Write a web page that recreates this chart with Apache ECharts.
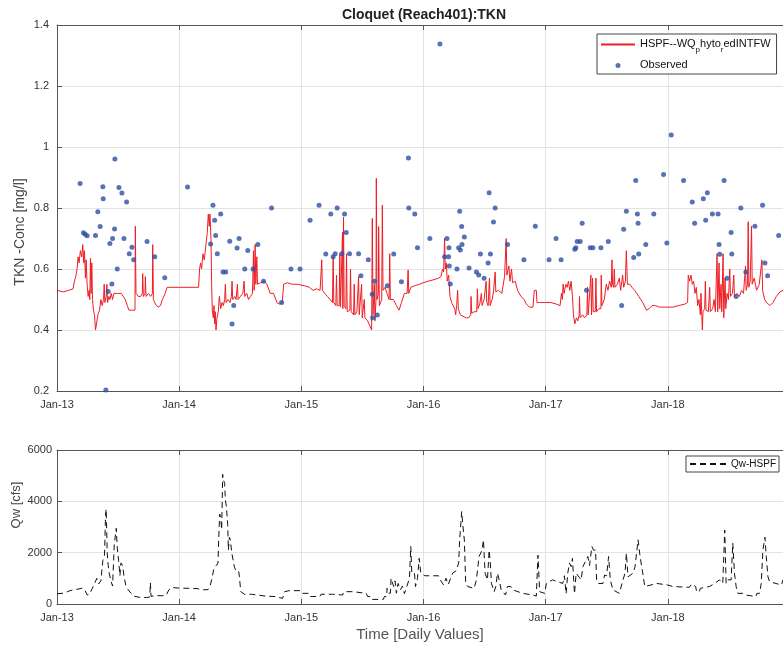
<!DOCTYPE html>
<html><head><meta charset="utf-8">
<script src="https://cdn.jsdelivr.net/npm/echarts@6/dist/echarts.min.js"></script>
<style>html,body{margin:0;padding:0;background:#fff}#c{width:783px;height:648px}</style>
</head><body><div id="c"></div>
<script>
// ---------- data ----------
const yearLabels = ['Jan-13','Jan-14','Jan-15','Jan-16','Jan-17','Jan-18'];
const xStart = '2013-01-01';
const xEnd = '2018-12-10';
const tknTicks = [0.2, 1.4, 0.2];      // min, max, step
const qwTicks = [0, 6000, 2000];       // min, max, step

const tknSim = [
['2013-01-01',0.53],['2013-01-20',0.525],['2013-02-05',0.53],['2013-02-18',0.535],['2013-02-22',0.56],['2013-02-26',0.575],['2013-03-02',0.60],['2013-03-05',0.64],['2013-03-08',0.62],['2013-03-12',0.66],['2013-03-16',0.64],['2013-03-19',0.68],['2013-03-22',0.62],['2013-03-24',0.66],['2013-03-27',0.57],['2013-03-29',0.63],['2013-04-01',0.55],['2013-04-04',0.51],['2013-04-07',0.53],['2013-04-09',0.50],['2013-04-11',0.635],['2013-04-13',0.52],['2013-04-15',0.62],['2013-04-17',0.50],['2013-04-20',0.465],['2013-04-23',0.45],['2013-04-26',0.40],['2013-04-29',0.42],['2013-05-03',0.45],['2013-05-08',0.465],['2013-05-12',0.50],['2013-05-16',0.48],['2013-05-20',0.50],['2013-05-22',0.55],['2013-05-24',0.49],['2013-05-28',0.51],['2013-05-30',0.55],['2013-06-01',0.49],['2013-06-05',0.51],['2013-06-08',0.50],['2013-06-12',0.52],['2013-06-16',0.50],['2013-06-20',0.52],['2013-07-01',0.52],['2013-07-12',0.52],['2013-07-18',0.51],['2013-07-24',0.50],['2013-07-30',0.48],['2013-08-04',0.465],['2013-08-15',0.465],['2013-08-22',0.465],['2013-08-23',0.74],['2013-08-25',0.52],['2013-09-01',0.51],['2013-09-08',0.51],['2013-09-13',0.52],['2013-09-14',0.585],['2013-09-16',0.51],['2013-09-21',0.52],['2013-09-22',0.575],['2013-09-24',0.51],['2013-10-01',0.52],['2013-10-08',0.51],['2013-10-13',0.52],['2013-10-14',0.68],['2013-10-16',0.50],['2013-10-22',0.485],['2013-10-30',0.475],['2013-11-06',0.48],['2013-11-12',0.50],['2013-11-20',0.52],['2013-11-26',0.54],['2013-12-10',0.54],['2013-12-31',0.54],
['2014-02-28',0.54],['2014-03-03',0.60],['2014-03-06',0.62],['2014-03-09',0.60],['2014-03-13',0.65],['2014-03-17',0.63],['2014-03-22',0.68],['2014-03-26',0.72],['2014-03-29',0.78],['2014-04-01',0.74],['2014-04-03',0.78],['2014-04-06',0.70],['2014-04-08',0.55],['2014-04-10',0.465],['2014-04-13',0.44],['2014-04-15',0.48],['2014-04-17',0.42],['2014-04-19',0.46],['2014-04-21',0.40],['2014-04-24',0.44],['2014-04-28',0.46],['2014-05-01',0.51],['2014-05-05',0.47],['2014-05-09',0.49],['2014-05-13',0.48],['2014-05-17',0.50],['2014-05-19',0.55],['2014-05-21',0.49],['2014-05-27',0.50],['2014-06-02',0.49],['2014-06-06',0.51],['2014-06-08',0.56],['2014-06-10',0.50],['2014-06-16',0.51],['2014-06-20',0.50],['2014-06-24',0.55],['2014-06-26',0.50],['2014-07-03',0.51],['2014-07-10',0.52],['2014-07-14',0.56],['2014-07-16',0.51],['2014-07-22',0.52],['2014-07-27',0.50],['2014-08-02',0.51],['2014-08-08',0.52],['2014-08-11',0.66],['2014-08-13',0.53],['2014-08-16',0.68],['2014-08-18',0.55],['2014-08-21',0.64],['2014-08-23',0.55],['2014-09-01',0.555],['2014-09-12',0.56],['2014-09-20',0.55],['2014-09-30',0.52],['2014-10-10',0.52],['2014-10-20',0.49],['2014-10-28',0.485],['2014-11-05',0.49],['2014-11-09',0.55],['2014-11-20',0.555],['2014-12-05',0.55],['2014-12-20',0.55],
['2015-01-10',0.545],['2015-01-25',0.54],['2015-02-05',0.53],['2015-02-15',0.535],['2015-02-26',0.53],['2015-03-02',0.53],['2015-03-03',0.63],['2015-03-05',0.53],['2015-03-12',0.52],['2015-03-20',0.51],['2015-03-28',0.50],['2015-04-04',0.49],['2015-04-06',0.64],['2015-04-08',0.49],['2015-04-14',0.48],['2015-04-16',0.58],['2015-04-18',0.48],['2015-04-24',0.48],['2015-04-26',0.65],['2015-04-28',0.475],['2015-05-03',0.47],['2015-05-04',0.72],['2015-05-05',0.47],['2015-05-07',0.77],['2015-05-09',0.48],['2015-05-14',0.47],['2015-05-16',0.65],['2015-05-18',0.46],['2015-05-26',0.465],['2015-05-28',0.60],['2015-05-30',0.46],['2015-06-06',0.45],['2015-06-08',0.55],['2015-06-10',0.45],['2015-06-16',0.46],['2015-06-21',0.575],['2015-06-23',0.45],['2015-06-28',0.445],['2015-06-30',0.55],['2015-07-02',0.44],['2015-07-08',0.50],['2015-07-10',0.44],['2015-07-18',0.43],['2015-07-26',0.41],['2015-07-30',0.40],['2015-08-01',0.766],['2015-08-03',0.45],['2015-08-07',0.55],['2015-08-09',0.43],['2015-08-12',0.50],['2015-08-13',0.897],['2015-08-15',0.50],['2015-08-19',0.52],['2015-08-20',0.739],['2015-08-22',0.48],['2015-08-29',0.50],['2015-08-31',0.81],['2015-09-02',0.53],['2015-09-08',0.54],['2015-09-14',0.52],['2015-09-20',0.50],['2015-09-22',0.65],['2015-09-24',0.50],['2015-10-03',0.50],['2015-10-12',0.48],['2015-10-20',0.465],['2015-10-27',0.49],['2015-11-05',0.52],['2015-11-13',0.52],['2015-11-16',0.597],['2015-11-18',0.52],['2015-11-24',0.54],['2015-12-05',0.545],['2015-12-20',0.55],['2015-12-31',0.555],
['2016-01-15',0.56],['2016-02-01',0.565],['2016-02-15',0.57],['2016-02-22',0.575],['2016-02-27',0.60],['2016-03-01',0.59],['2016-03-04',0.70],['2016-03-06',0.60],['2016-03-09',0.62],['2016-03-12',0.56],['2016-03-16',0.58],['2016-03-20',0.51],['2016-03-25',0.49],['2016-03-30',0.485],['2016-04-03',0.47],['2016-04-06',0.45],['2016-04-09',0.48],['2016-04-12',0.53],['2016-04-14',0.47],['2016-04-20',0.45],['2016-04-28',0.445],['2016-05-08',0.44],['2016-05-15',0.44],['2016-05-21',0.45],['2016-05-22',0.51],['2016-05-24',0.455],['2016-06-01',0.46],['2016-06-08',0.46],['2016-06-10',0.535],['2016-06-12',0.47],['2016-06-17',0.485],['2016-06-22',0.52],['2016-06-24',0.48],['2016-06-30',0.50],['2016-07-06',0.56],['2016-07-08',0.49],['2016-07-12',0.48],['2016-07-16',0.57],['2016-07-18',0.48],['2016-07-24',0.50],['2016-07-28',0.525],['2016-08-02',0.59],['2016-08-04',0.525],['2016-08-12',0.53],['2016-08-22',0.52],['2016-08-30',0.575],['2016-09-02',0.58],['2016-09-04',0.70],['2016-09-06',0.58],['2016-09-12',0.61],['2016-09-15',0.56],['2016-09-20',0.60],['2016-09-23',0.555],['2016-10-01',0.56],['2016-10-08',0.53],['2016-10-18',0.51],['2016-10-28',0.50],['2016-11-03',0.485],['2016-11-12',0.475],['2016-11-23',0.475],['2016-11-27',0.53],['2016-12-03',0.53],['2016-12-05',0.49],['2016-12-15',0.49],['2016-12-31',0.49],
['2017-01-15',0.49],['2017-02-01',0.485],['2017-02-12',0.48],['2017-02-16',0.52],['2017-02-19',0.50],['2017-02-21',0.55],['2017-02-24',0.52],['2017-03-01',0.55],['2017-03-05',0.54],['2017-03-09',0.56],['2017-03-13',0.53],['2017-03-17',0.56],['2017-03-21',0.51],['2017-03-24',0.45],['2017-03-28',0.42],['2017-04-02',0.44],['2017-04-06',0.43],['2017-04-10',0.45],['2017-04-11',0.51],['2017-04-13',0.44],['2017-04-20',0.45],['2017-04-26',0.44],['2017-05-03',0.45],['2017-05-05',0.54],['2017-05-07',0.45],['2017-05-12',0.455],['2017-05-15',0.58],['2017-05-17',0.45],['2017-05-20',0.57],['2017-05-22',0.46],['2017-05-28',0.46],['2017-05-30',0.57],['2017-06-01',0.46],['2017-06-08',0.47],['2017-06-14',0.47],['2017-06-15',0.58],['2017-06-17',0.48],['2017-06-24',0.50],['2017-06-30',0.55],['2017-07-05',0.53],['2017-07-10',0.56],['2017-07-15',0.54],['2017-07-17',0.63],['2017-07-19',0.55],['2017-07-22',0.54],['2017-07-24',0.60],['2017-07-26',0.54],['2017-08-02',0.55],['2017-08-08',0.57],['2017-08-12',0.53],['2017-08-18',0.58],['2017-08-21',0.54],['2017-08-26',0.56],['2017-08-29',0.66],['2017-09-01',0.55],['2017-09-08',0.55],['2017-09-15',0.54],['2017-09-23',0.53],['2017-10-05',0.51],['2017-10-17',0.49],['2017-10-28',0.465],['2017-11-05',0.47],['2017-11-14',0.48],['2017-11-24',0.48],['2017-12-06',0.475],['2017-12-21',0.475],
['2018-01-15',0.475],['2018-02-01',0.48],['2018-02-20',0.485],['2018-02-28',0.49],['2018-03-02',0.58],['2018-03-06',0.56],['2018-03-10',0.58],['2018-03-14',0.55],['2018-03-18',0.56],['2018-03-22',0.52],['2018-03-26',0.54],['2018-03-30',0.48],['2018-04-03',0.50],['2018-04-07',0.45],['2018-04-09',0.52],['2018-04-11',0.46],['2018-04-13',0.40],['2018-04-15',0.46],['2018-04-20',0.47],['2018-04-22',0.56],['2018-04-24',0.465],['2018-05-01',0.46],['2018-05-05',0.54],['2018-05-07',0.46],['2018-05-14',0.47],['2018-05-18',0.50],['2018-05-22',0.46],['2018-05-27',0.65],['2018-05-29',0.46],['2018-06-02',0.62],['2018-06-04',0.47],['2018-06-08',0.55],['2018-06-10',0.46],['2018-06-14',0.65],['2018-06-16',0.44],['2018-06-20',0.57],['2018-06-22',0.47],['2018-06-26',0.52],['2018-06-30',0.50],['2018-07-04',0.60],['2018-07-06',0.51],['2018-07-12',0.52],['2018-07-16',0.58],['2018-07-18',0.51],['2018-07-25',0.52],['2018-08-02',0.51],['2018-08-08',0.53],['2018-08-14',0.52],['2018-08-20',0.61],['2018-08-22',0.53],['2018-08-26',0.55],['2018-08-28',0.755],['2018-08-30',0.54],['2018-09-03',0.56],['2018-09-07',0.74],['2018-09-09',0.55],['2018-09-15',0.57],['2018-09-22',0.53],['2018-09-30',0.55],['2018-10-08',0.63],['2018-10-10',0.53],['2018-10-16',0.50],['2018-10-22',0.49],['2018-11-01',0.48],['2018-11-10',0.49],['2018-11-20',0.51],['2018-12-01',0.525],['2018-12-10',0.53]
];

const tknObs = [
['2013-03-11',0.88],['2013-03-21',0.719],['2013-03-26',0.714],['2013-04-01',0.709],['2013-04-26',0.71],['2013-05-03',0.788],['2013-05-10',0.739],['2013-05-18',0.87],['2013-05-19',0.83],['2013-05-27',0.203],['2013-06-03',0.526],['2013-06-08',0.684],['2013-06-14',0.551],['2013-06-16',0.70],['2013-06-22',0.731],['2013-06-23',0.961],['2013-06-30',0.60],['2013-07-05',0.867],['2013-07-14',0.849],['2013-07-20',0.70],['2013-07-28',0.82],['2013-08-05',0.65],['2013-08-13',0.671],['2013-08-18',0.63],['2013-09-27',0.69],['2013-10-20',0.64],['2013-11-19',0.571],
['2014-01-26',0.869],['2014-04-05',0.682],['2014-04-12',0.809],['2014-04-17',0.76],['2014-04-20',0.71],['2014-04-25',0.65],['2014-05-05',0.78],['2014-05-12',0.59],['2014-05-20',0.59],['2014-06-01',0.691],['2014-06-08',0.42],['2014-06-13',0.48],['2014-06-23',0.669],['2014-06-29',0.70],['2014-07-16',0.60],['2014-07-25',0.661],['2014-08-10',0.60],['2014-08-24',0.68],['2014-09-10',0.56],['2014-10-04',0.80],['2014-11-03',0.49],['2014-12-01',0.60],['2014-12-28',0.60],
['2015-01-27',0.76],['2015-02-23',0.809],['2015-03-15',0.649],['2015-03-30',0.78],['2015-04-06',0.64],['2015-04-12',0.65],['2015-04-18',0.80],['2015-05-02',0.65],['2015-05-10',0.78],['2015-05-15',0.72],['2015-05-25',0.65],['2015-06-21',0.65],['2015-06-28',0.578],['2015-07-20',0.63],['2015-08-01',0.517],['2015-08-02',0.44],['2015-08-08',0.56],['2015-08-16',0.449],['2015-09-15',0.545],['2015-10-04',0.649],['2015-10-27',0.558],['2015-11-17',0.964],['2015-11-18',0.80],['2015-12-06',0.78],['2015-12-14',0.67],
['2016-01-20',0.70],['2016-02-19',1.338],['2016-03-04',0.64],['2016-03-11',0.70],['2016-03-16',0.64],['2016-03-17',0.67],['2016-03-18',0.61],['2016-03-21',0.551],['2016-04-10',0.60],['2016-04-15',0.67],['2016-04-18',0.789],['2016-04-20',0.662],['2016-04-24',0.739],['2016-04-25',0.68],['2016-05-02',0.705],['2016-05-16',0.603],['2016-06-07',0.59],['2016-06-14',0.58],['2016-06-19',0.649],['2016-06-30',0.57],['2016-07-12',0.62],['2016-07-15',0.85],['2016-07-19',0.649],['2016-07-28',0.754],['2016-08-02',0.80],['2016-09-08',0.68],['2016-10-27',0.63],['2016-11-30',0.74],
['2017-01-10',0.63],['2017-01-31',0.70],['2017-02-15',0.63],['2017-03-28',0.665],['2017-03-31',0.67],['2017-04-04',0.69],['2017-04-13',0.69],['2017-04-19',0.75],['2017-05-02',0.53],['2017-05-13',0.67],['2017-05-21',0.67],['2017-06-14',0.67],['2017-07-06',0.69],['2017-08-15',0.48],['2017-08-21',0.73],['2017-08-29',0.789],['2017-09-20',0.638],['2017-09-26',0.89],['2017-10-01',0.78],['2017-10-03',0.75],['2017-10-05',0.649],['2017-10-26',0.68],['2017-11-19',0.78],['2017-12-18',0.91],['2017-12-28',0.685],
['2018-01-10',1.039],['2018-02-16',0.89],['2018-03-14',0.82],['2018-03-21',0.75],['2018-04-16',0.83],['2018-04-23',0.76],['2018-04-28',0.85],['2018-05-13',0.78],['2018-05-30',0.78],['2018-06-02',0.68],['2018-06-04',0.648],['2018-06-17',0.89],['2018-06-26',0.57],['2018-07-08',0.72],['2018-07-10',0.649],['2018-07-23',0.51],['2018-08-06',0.80],['2018-08-21',0.59],['2018-09-17',0.74],['2018-10-10',0.809],['2018-10-17',0.62],['2018-10-25',0.578],['2018-11-27',0.71]
];

const qwSim = [
['2013-01-01',400],['2013-01-20',420],['2013-02-05',500],['2013-02-20',560],['2013-03-05',580],['2013-03-18',620],['2013-03-26',520],['2013-04-01',350],['2013-04-08',380],['2013-04-17',620],['2013-04-24',820],['2013-04-30',1000],['2013-05-05',780],['2013-05-12',900],['2013-05-18',1700],['2013-05-23',1900],['2013-05-26',3500],['2013-05-28',3700],['2013-05-31',2000],['2013-06-03',1500],['2013-06-06',1200],['2013-06-11',900],['2013-06-16',700],['2013-06-21',2300],['2013-06-27',2950],['2013-06-30',2200],['2013-07-04',1700],['2013-07-08',1100],['2013-07-11',1600],['2013-07-16',1500],['2013-07-20',1100],['2013-07-26',700],['2013-08-02',550],['2013-08-10',420],['2013-08-20',300],['2013-09-05',260],['2013-09-25',250],['2013-10-05',270],['2013-10-07',830],['2013-10-09',300],['2013-10-25',330],['2013-11-10',320],['2013-11-24',350],['2013-12-01',550],['2013-12-10',640],
['2014-01-01',620],['2014-02-01',610],['2014-02-25',600],['2014-03-10',550],['2014-03-28',560],['2014-04-03',680],['2014-04-08',940],['2014-04-15',1400],['2014-04-22',1500],['2014-04-27',1600],['2014-04-29',2500],['2014-05-02',3500],['2014-05-05',3400],['2014-05-08',2900],['2014-05-11',5050],['2014-05-14',4800],['2014-05-17',4700],['2014-05-19',4050],['2014-05-22',3800],['2014-05-26',3100],['2014-05-28',2100],['2014-05-31',2600],['2014-06-03',2500],['2014-06-07',2000],['2014-06-12',2000],['2014-06-15',1450],['2014-06-20',1260],['2014-06-28',1260],['2014-06-30',1060],['2014-07-04',480],['2014-07-15',380],['2014-08-05',380],['2014-08-10',310],['2014-09-15',310],['2014-09-20',290],['2014-10-15',290],['2014-10-20',220],['2014-11-06',220],['2014-11-12',480],['2014-11-26',520],['2014-12-31',520],
['2015-01-05',415],['2015-01-25',415],['2015-01-28',290],['2015-02-25',290],['2015-03-01',380],['2015-04-04',380],['2015-04-08',350],['2015-05-04',350],['2015-05-08',480],['2015-06-04',480],['2015-06-08',415],['2015-07-14',415],['2015-07-18',290],['2015-07-25',290],['2015-07-28',180],['2015-09-03',180],['2015-09-06',290],['2015-09-13',290],['2015-09-14',610],['2015-09-18',420],['2015-09-24',420],['2015-09-26',1000],['2015-09-29',870],['2015-10-04',680],['2015-10-08',900],['2015-10-12',420],['2015-10-17',800],['2015-10-24',550],['2015-10-30',700],['2015-11-05',400],['2015-11-12',680],['2015-11-20',1000],['2015-11-24',2240],['2015-11-27',1200],['2015-12-05',1200],['2015-12-08',680],['2015-12-14',1000],['2015-12-19',1780],['2015-12-24',1200],
['2016-01-05',1100],['2016-02-15',1100],['2016-02-22',900],['2016-03-01',740],['2016-03-08',1000],['2016-03-15',760],['2016-03-22',1000],['2016-03-28',1200],['2016-04-08',1300],['2016-04-15',1600],['2016-04-18',2500],['2016-04-24',3600],['2016-04-28',3000],['2016-05-02',2500],['2016-05-06',800],['2016-05-12',680],['2016-05-31',610],['2016-06-07',940],['2016-06-15',1850],['2016-06-24',2100],['2016-06-28',2500],['2016-07-03',1200],['2016-07-10',940],['2016-07-15',2100],['2016-07-18',1700],['2016-07-22',800],['2016-07-30',480],['2016-08-04',680],['2016-08-09',1200],['2016-08-14',940],['2016-08-20',550],['2016-09-02',350],['2016-09-08',680],['2016-09-18',680],['2016-09-24',550],['2016-10-23',415],['2016-11-22',350],['2016-12-03',310],['2016-12-08',1900],['2016-12-13',480],['2016-12-28',415],
['2017-01-02',800],['2017-01-20',940],['2017-02-20',800],['2017-02-25',1100],['2017-03-02',400],['2017-03-07',1200],['2017-03-12',1600],['2017-03-17',1460],['2017-03-21',1780],['2017-03-27',400],['2017-04-01',1200],['2017-04-16',940],['2017-04-21',1450],['2017-05-06',1850],['2017-05-11',1500],['2017-05-18',2240],['2017-05-23',2100],['2017-05-29',2100],['2017-06-01',940],['2017-06-06',800],['2017-06-20',800],['2017-06-25',1130],['2017-07-01',1100],['2017-07-07',1850],['2017-07-12',940],['2017-07-20',550],['2017-08-08',415],['2017-08-19',940],['2017-08-25',1200],['2017-08-29',1980],['2017-09-03',1060],['2017-09-18',1200],['2017-09-24',1460],['2017-10-03',2500],['2017-10-09',1850],['2017-10-17',1200],['2017-10-23',680],['2017-10-28',740],['2017-11-28',800],['2017-12-31',740],
['2018-01-15',680],['2018-03-05',650],['2018-03-12',780],['2018-03-24',680],['2018-03-27',480],['2018-04-04',480],['2018-04-07',610],['2018-05-04',680],['2018-05-20',800],['2018-06-03',940],['2018-06-13',800],['2018-06-19',2880],['2018-06-23',800],['2018-06-28',940],['2018-07-08',940],['2018-07-13',2370],['2018-07-18',1200],['2018-07-23',680],['2018-07-28',415],['2018-08-12',415],['2018-08-20',350],['2018-09-20',290],['2018-09-23',415],['2018-10-01',415],['2018-10-06',800],['2018-10-11',2100],['2018-10-17',2600],['2018-10-21',1850],['2018-10-26',1060],['2018-10-31',870],['2018-12-05',740],['2018-12-10',940]
];

// ---------- helpers ----------
const T0 = Date.UTC(2013,0,1);
const day = s => (Date.UTC(+s.slice(0,4), +s.slice(5,7)-1, +s.slice(8,10)) - T0) / 86400000;
const toXY = arr => arr.map(d => [day(d[0]), d[1]]);
const xMax = day(xEnd);
const FONT = '"Liberation Sans", Arial, Helvetica, sans-serif';
const AX = '#555';

function xAx(gridIndex, top) {
  return {
    type: 'value', gridIndex, position: top ? 'top' : 'bottom',
    min: 0, max: xMax, interval: 365,
    axisLine: {show: true, onZero: false, lineStyle: {color: AX, width: 1}},
    axisTick: {show: true, inside: true, length: 5, lineStyle: {color: AX}},
    axisLabel: {show: !top, showMaxLabel: false, margin: 8, fontSize: 11, color: '#333', fontFamily: FONT,
      formatter: v => { const k = Math.round(v / 365.25); return (Math.abs(v - k*365) < 3 && k < yearLabels.length) ? yearLabels[k] : ''; }},
    splitLine: {show: !top, lineStyle: {color: '#e3e3e3', width: 1}}
  };
}

const chart = echarts.init(document.getElementById('c'), null, {renderer: 'canvas'});
chart.setOption({
  animation: false,
  backgroundColor: '#fff',
  textStyle: {fontFamily: FONT},
  title: {
    text: 'Cloquet (Reach401):TKN', left: 419, top: 3, textAlign: 'center',
    textStyle: {fontSize: 14, fontWeight: 'bold', color: '#222', fontFamily: FONT}
  },
  grid: [
    {left: 57, top: 25, right: 0, height: 366, outerBoundsMode: 'none', containLabel: false},
    {left: 57, top: 450, right: 0, height: 154, outerBoundsMode: 'none', containLabel: false}
  ],
  xAxis: [
    xAx(0, false), xAx(0, true),
    Object.assign(xAx(1, false), {name: 'Time [Daily Values]', nameLocation: 'middle', nameGap: 23,
      nameMoveOverlap: false, nameTextStyle: {fontSize: 15, color: '#555', fontFamily: FONT}}),
    xAx(1, true)
  ],
  yAxis: [
    {type: 'value', gridIndex: 0, min: tknTicks[0], max: tknTicks[1], interval: tknTicks[2],
     name: 'TKN -Conc [mg/l]', nameLocation: 'middle', nameGap: 30, nameMoveOverlap: false,
     nameTextStyle: {fontSize: 14, color: '#444', fontFamily: FONT, padding: [0, 48, 0, 0]},
     axisLine: {show: true, lineStyle: {color: AX}},
     axisTick: {show: true, inside: true, length: 5, lineStyle: {color: AX}},
     axisLabel: {fontSize: 11, color: '#333', margin: 8, fontFamily: FONT},
     splitLine: {show: true, lineStyle: {color: '#e3e3e3'}}},
    {type: 'value', gridIndex: 1, min: qwTicks[0], max: qwTicks[1], interval: qwTicks[2],
     name: 'Qw [cfs]', nameLocation: 'middle', nameGap: 34, nameMoveOverlap: false,
     nameTextStyle: {fontSize: 13, color: '#444', fontFamily: FONT, padding: [0, 0, 0, 44]},
     axisLine: {show: true, lineStyle: {color: AX}},
     axisTick: {show: true, inside: true, length: 5, lineStyle: {color: AX}},
     axisLabel: {fontSize: 11, color: '#333', margin: 5, fontFamily: FONT, formatter: v => String(v)},
     splitLine: {show: true, lineStyle: {color: '#e3e3e3'}}}
  ],
  legend: [
    {data: [{name: 'HSPF', itemStyle: {opacity: 0}}, {name: 'Observed'}], left: 597, top: 34, orient: 'vertical',
     backgroundColor: '#fff', borderColor: '#444', borderWidth: 1, borderRadius: 0,
     padding: [4, 6, 4, 3], itemGap: 5, itemWidth: 34, itemHeight: 5,
     formatter: n => n === 'HSPF' ? '{a|HSPF--WQ}{s|p}{a|hyto}{s|r}{a|edINTFW}' : '{a|Observed}',
     textStyle: {fontFamily: FONT, color: '#111',
       rich: {a: {fontSize: 11, lineHeight: 13, verticalAlign: 'top', color: '#111', fontFamily: FONT},
              s: {fontSize: 8, lineHeight: 8, verticalAlign: 'top', padding: [8, 0, 0, 0], color: '#111', fontFamily: FONT}}}},
    {data: [{name: 'Qw-HSPF', itemStyle: {opacity: 0}}], left: 686, top: 456,
     backgroundColor: '#fff', borderColor: '#444', borderWidth: 1, borderRadius: 0,
     padding: [3, 3, 3, 3], itemWidth: 36, itemHeight: 8,
     textStyle: {fontSize: 10, color: '#111', fontFamily: FONT}}
  ],
  series: [
    {name: 'HSPF', type: 'line', xAxisIndex: 0, yAxisIndex: 0, data: toXY(tknSim),
     symbol: 'none', lineStyle: {color: '#ee1d23', width: 1}, itemStyle: {color: '#ee1d23'}, z: 2},
    {name: 'Observed', type: 'scatter', xAxisIndex: 0, yAxisIndex: 0, data: toXY(tknObs),
     symbol: 'circle', symbolSize: 5, itemStyle: {color: '#2f4fa2'}, z: 3},
    {name: 'Qw-HSPF', type: 'line', xAxisIndex: 2, yAxisIndex: 1, data: toXY(qwSim),
     symbol: 'none', lineStyle: {color: '#111', width: 1, type: [6, 4]}, itemStyle: {color: '#111'}}
  ]
});
</script>
</body></html>
